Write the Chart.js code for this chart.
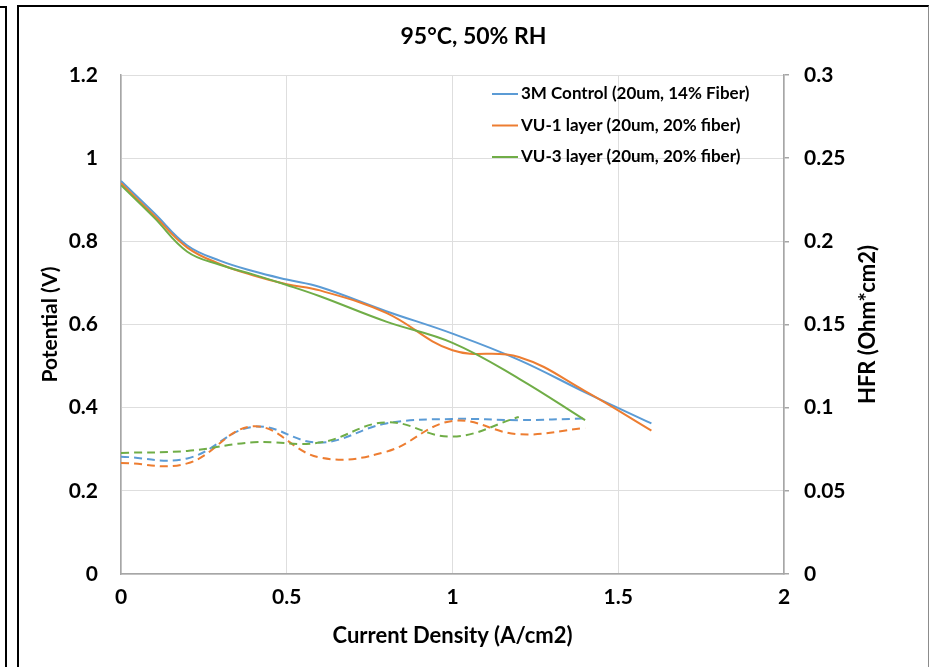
<!DOCTYPE html>
<html><head><meta charset="utf-8">
<script src="https://cdn.jsdelivr.net/npm/chart.js@4"></script>
<style>
html,body{margin:0;padding:0;background:#fff;}
body{width:930px;height:667px;position:relative;overflow:hidden;}
#leftEdge{position:absolute;left:-12px;top:6px;width:19px;height:700px;box-sizing:border-box;border:2px solid #000;}
#frame{position:absolute;left:17px;top:5px;width:912px;height:700px;box-sizing:border-box;border-top:2px solid #000;border-left:2px solid #000;border-right:1px solid #8c8c8c;}
#wrap{position:absolute;left:19px;top:7px;width:909px;height:660px;}
</style></head><body>
<div id="leftEdge"></div><div id="frame"></div>
<div id="wrap"><canvas id="c" width="909" height="660"></canvas></div>
<script>
const chartTitle = '95°C, 50% RH';
const xAxisTitle = 'Current Density (A/cm2)';
const yAxisTitle = 'Potential (V)';
const y2AxisTitle = 'HFR (Ohm*cm2)';
const seriesNames = ['3M Control (20um, 14% Fiber)', 'VU-1 layer (20um, 20% fiber)', 'VU-3 layer (20um, 20% fiber)'];
const seriesColors = ['#5B9BD5', '#ED7D31', '#70AD47'];

// Polarization curves (left axis)
const polCurrent   = [0, 0.1, 0.2, 0.3, 0.4, 0.5, 0.6, 0.8, 1.0, 1.2, 1.4, 1.6];
const potential3M  = [0.945, 0.868, 0.790, 0.753, 0.728, 0.708, 0.690, 0.632, 0.578, 0.515, 0.437, 0.362];
const potentialVU1 = [0.940, 0.862, 0.785, 0.745, 0.718, 0.697, 0.682, 0.628, 0.538, 0.522, 0.440, 0.345];
const potentialVU3 = [0.935, 0.857, 0.775, 0.743, 0.720, 0.695, 0.668, 0.607, 0.556, 0.470, 0.370];

// HFR curves (right axis)
const hfrCurrent = [0, 0.2, 0.4, 0.6, 0.8, 1.0, 1.2, 1.4];
const hfr3M  = [0.0705, 0.0695, 0.0885, 0.0790, 0.0905, 0.0932, 0.0925, 0.0935];
const hfrVU1 = [0.0668, 0.0665, 0.0888, 0.0700, 0.0735, 0.0920, 0.0840, 0.0878];
const hfrVU3 = [0.0728, 0.0740, 0.0792, 0.0790, 0.0912, 0.0826, 0.0944];

const xTickValues  = [0, 0.5, 1, 1.5, 2];
const xTickLabels  = ['0', '0.5', '1', '1.5', '2'];
const yTickValues  = [0, 0.2, 0.4, 0.6, 0.8, 1.0, 1.2];
const yTickLabels  = ['0', '0.2', '0.4', '0.6', '0.8', '1', '1.2'];
const y2TickValues = [0, 0.05, 0.1, 0.15, 0.2, 0.25, 0.3];
const y2TickLabels = ['0', '0.05', '0.1', '0.15', '0.2', '0.25', '0.3'];

const FONT = 'Lato';
const pts = (xs, ys) => ys.map((y, i) => ({x: xs[i], y: y}));

function solid(i, ys, order) {
  return {label: seriesNames[i], data: pts(polCurrent, ys), yAxisID: 'y',
    borderColor: seriesColors[i], borderWidth: 2, pointRadius: 0, tension: 0.4,
    fill: false, order: order, showLine: true};
}
function dashed(i, ys, order) {
  return {label: seriesNames[i] + ' HFR', data: pts(hfrCurrent, ys), yAxisID: 'y1',
    borderColor: seriesColors[i], borderWidth: 2, borderDash: [8, 5], pointRadius: 0,
    tension: 0.4, fill: false, order: order, showLine: true, isHfr: true};
}

const overlay = {
  id: 'overlay',
  afterDraw(chart) {
    const {ctx, chartArea: a} = chart;
    ctx.save();
    ctx.font = 'bold 17px ' + FONT;
    ctx.textBaseline = 'middle';
    ctx.textAlign = 'left';
    const legendSets = chart.data.datasets.filter(d => !d.isHfr);
    legendSets.forEach((d, i) => {
      const y = a.top + 19 + i * 31.5;
      ctx.strokeStyle = d.borderColor; ctx.lineWidth = 2;
      ctx.beginPath(); ctx.moveTo(a.left + 371, y); ctx.lineTo(a.left + 397, y); ctx.stroke();
      ctx.fillStyle = '#000';
      ctx.fillText(d.label, a.left + 400, y);
    });
    ctx.translate(a.right + 84, (a.top + a.bottom) / 2);
    ctx.rotate(-Math.PI / 2);
    ctx.textAlign = 'center';
    ctx.font = 'bold 22px ' + FONT;
    ctx.fillText(y2AxisTitle, 0, 0);
    ctx.restore();
  }
};

const gridColor = '#dedede';
const axisColor = '#a6a6a6';

new Chart(document.getElementById('c'), {
  type: 'scatter',
  data: {datasets: [
    solid(0, potential3M, 3), solid(1, potentialVU1, 2), solid(2, potentialVU3, 1),
    dashed(0, hfr3M, 6), dashed(1, hfrVU1, 5), dashed(2, hfrVU3, 4)
  ]},
  options: {
    responsive: false, animation: false,
    layout: {padding: 0},
    plugins: {
      legend: {display: false}, tooltip: {enabled: false},
      title: {display: true, text: chartTitle, color: '#000',
        font: {family: FONT, size: 23, weight: 'bold'}, padding: {top: 16, bottom: 24.4}}
    },
    scales: {
      x: {type: 'linear', min: 0, max: 2,
        afterBuildTicks: s => { s.ticks = xTickValues.map(v => ({value: v})); },
        afterFit: s => { s.height = 93; },
        ticks: {callback: (v, i) => xTickLabels[i], color: '#000', padding: 11,
          font: {family: FONT, size: 21, weight: 'bold'}, maxRotation: 0},
        grid: {color: gridColor, drawTicks: false, lineWidth: 1},
        border: {color: axisColor, width: 1.5},
        title: {display: true, text: xAxisTitle, color: '#000',
          font: {family: FONT, size: 22, weight: 'bold'}, padding: {top: 0, bottom: 18}}
      },
      y: {type: 'linear', position: 'left', min: 0, max: 1.2,
        afterBuildTicks: s => { s.ticks = yTickValues.map(v => ({value: v})); },
        afterFit: s => { s.width = 102; },
        ticks: {callback: (v, i) => yTickLabels[i], color: '#000', padding: 23,
          font: {family: FONT, size: 21, weight: 'bold'}},
        grid: {color: gridColor, drawTicks: false, lineWidth: 1},
        border: {color: axisColor, width: 1.5},
        title: {display: true, text: yAxisTitle, color: '#000',
          font: {family: FONT, size: 21, weight: 'bold'}, padding: {top: 18.4, bottom: 0}}
      },
      y1: {type: 'linear', position: 'right', min: 0, max: 0.3,
        afterBuildTicks: s => { s.ticks = y2TickValues.map(v => ({value: v})); },
        afterFit: s => { s.width = 144; },
        ticks: {callback: (v, i) => y2TickLabels[i], color: '#000', padding: 15,
          font: {family: FONT, size: 21, weight: 'bold'}},
        grid: {drawOnChartArea: false, drawTicks: true, tickLength: 5, color: axisColor, lineWidth: 1.5},
        border: {color: axisColor, width: 1.5}
      }
    }
  },
  plugins: [overlay]
});
</script>
</body></html>
